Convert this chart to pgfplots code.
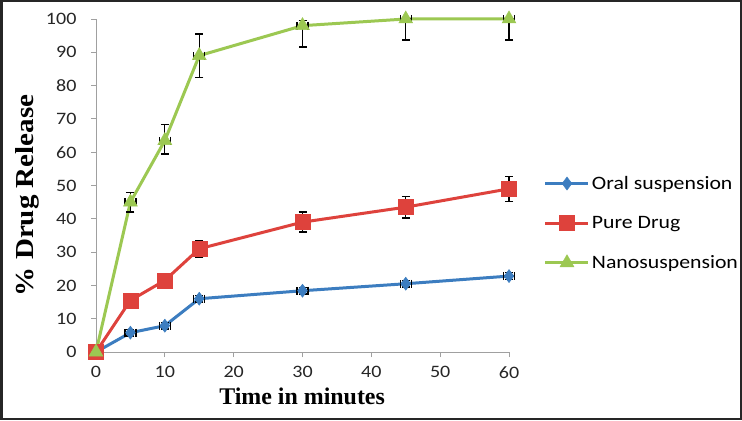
\documentclass[border=0pt]{standalone}
\usepackage{pgfplots}
\pgfplotsset{compat=1.18}
\usepackage{pgfplotstable}
\usepackage{fontspec}
\setmainfont{Liberation Serif}
\newfontfamily\calib[FakeStretch=1.15]{Carlito}
\definecolor{cblue}{RGB}{60,125,192}
\definecolor{cred}{RGB}{222,66,60}
\definecolor{cgreen}{RGB}{156,200,82}
\definecolor{axgray}{RGB}{160,160,160}

\pgfplotstableread{
t v ex ep em
0 0 0 0 0
5 5.8 0.8 1.0 1.0
10 7.9 0.8 1.0 1.0
15 16.0 0.8 1.0 1.0
30 18.4 0.8 1.0 1.0
45 20.5 0.8 1.0 1.0
60 22.8 0.8 1.0 1.0
}\oral
\pgfplotstableread{
t v ex ep em
0 0 0 0 0
5 15.5 0.6 1.0 1.0
10 21.5 0.6 1.0 1.0
15 31.0 0.6 2.5 2.5
30 39.0 0.6 3.0 3.0
45 43.5 0.6 3.3 3.3
60 49.0 0.6 3.8 3.8
}\pure
\pgfplotstableread{
t v ex ep em
0 0 0 0 0
5 45.0 0.8 3.0 3.0
10 63.5 0.8 4.8 4.0
15 89.0 0.8 6.5 6.5
30 98.0 0.8 1.5 6.4
45 100.0 0.8 0 6.3
60 100.0 0.8 0 6.3
}\nano

\begin{document}
\begin{tikzpicture}[x=1bp,y=1bp]
\useasboundingbox (0,0) rectangle (742,420);
\fill[white] (0,0) rectangle (742,420);
\draw[line width=2.5bp, black!85] (1.25,1.25) rectangle (740.75,418.75);
\begin{axis}[
  at={(96bp,68bp)}, anchor=south west,
  scale only axis, width=413bp, height=333bp,
  xmin=0, xmax=60, ymin=0, ymax=100,
  clip=false,
  axis x line*=bottom, axis y line*=left,
  axis line style={-, axgray, line width=0.9bp},
  tick style={axgray, line width=0.9bp},
  tick align=outside, major tick length=5bp,
  xtick={0,10,...,60}, ytick={0,10,...,100},
  /pgf/number format/assume math mode=true,
  ticklabel style={font=\calib\fontsize{17.5}{20}\selectfont, text=black!85},
  yticklabel style={xshift=-11bp},
  xticklabel style={yshift=-6bp},
  xlabel={\textbf{Time in minutes}},
  ylabel={\textbf{\addfontfeature{FakeStretch=1.12}\% Drug Release}},
  xlabel style={font=\fontsize{24}{28}\selectfont, at={(axis description cs:0.499,-0.132)}, anchor=center},
  ylabel style={font=\fontsize{26}{30}\selectfont, at={(axis description cs:-0.165,0.47)}, anchor=center},
  legend style={at={(axis description cs:1.077,0.387)}, anchor=west, draw=none, fill=none,
    font=\calib\fontsize{19}{22}\selectfont, row sep=21.5bp, cells={anchor=west}},
  legend image code/.code={\draw[mark repeat=2,mark phase=2,#1] plot coordinates {(0bp,0bp)(21.5bp,0bp)(43bp,0bp)};},
  error bars/error bar style={black, line width=1.3bp},
  error bars/error mark options={black, line width=1.3bp, mark size=4bp, rotate=90},
]
\addplot[cblue, line width=3bp, mark=diamond*, mark size=6.5bp, mark options={fill=cblue, draw=cblue, line width=0.5bp},
  error bars/.cd, x dir=both, x explicit, y dir=both, y explicit]
  table[x=t, y=v, x error=ex, y error plus=ep, y error minus=em] {\oral};
\addlegendentry{Oral suspension}
\addplot[cred, line width=3bp, mark=square*, mark size=7.5bp, mark options={fill=cred, draw=cred, line width=0.5bp},
  error bars/.cd, x dir=both, x explicit, y dir=both, y explicit]
  table[x=t, y=v, x error=ex, y error plus=ep, y error minus=em] {\pure};
\addlegendentry{Pure Drug}
\addplot[cgreen, line width=3bp, mark=triangle*, mark size=8bp, mark options={fill=cgreen, draw=cgreen, line width=0.5bp},
  error bars/.cd, x dir=both, x explicit, y dir=both, y explicit]
  table[x=t, y=v, x error=ex, y error plus=ep, y error minus=em] {\nano};
\addlegendentry{Nanosuspension}
\end{axis}
\end{tikzpicture}
\end{document}
